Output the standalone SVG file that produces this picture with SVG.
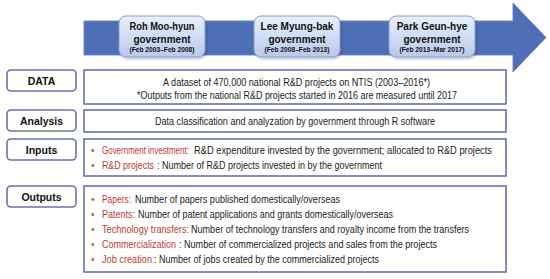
<svg xmlns="http://www.w3.org/2000/svg" width="550" height="279" viewBox="0 0 550 279">
<defs>
<linearGradient id="gov" x1="0" y1="0" x2="0" y2="1">
<stop offset="0" stop-color="#eaf0fb"/>
<stop offset="1" stop-color="#b6c9ec"/>
</linearGradient>
<filter id="sh" x="-10%" y="-10%" width="130%" height="140%">
<feDropShadow dx="1" dy="1.5" stdDeviation="1" flood-color="#000" flood-opacity="0.25"/>
</filter>
</defs>
<style>
.gbox{fill:url(#gov);stroke:#8a9dcc;stroke-width:1;filter:url(#sh)}
.lbox{fill:#fff;stroke:#6a6fb3;stroke-width:1.6}
.cbox{fill:#fff;stroke:#6a6fb3;stroke-width:1.6}
.gt{font-family:"Liberation Sans",Arial,sans-serif;font-weight:bold;font-size:10px;fill:#111;text-anchor:middle}
.gs{font-family:"Liberation Sans",Arial,sans-serif;font-weight:bold;font-size:6.6px;fill:#111;text-anchor:middle}
.lt{font-family:"Liberation Sans",Arial,sans-serif;font-weight:bold;font-size:10.5px;fill:#111;text-anchor:middle}
.ct{font-family:"Liberation Sans",Arial,sans-serif;font-size:10.3px;fill:#222}
.r{fill:#c0392f}
.b{fill:#c0504d}
</style>
<rect width="550" height="279" fill="#fff"/>
<g id="timeline">
<polygon points="84,21 513,21 513,3 546,37.5 513,72 513,55 84,55" fill="#4e6fb6" stroke="#6a88c8" stroke-width="1"/>
</g>
<g id="roh">
<rect class="gbox" x="119" y="16" width="86" height="41" rx="7"/>
<text class="gt" x="162" y="29.5" textLength="65" lengthAdjust="spacingAndGlyphs">Roh Moo-hyun</text>
<text class="gt" x="162" y="42.5">government</text>
<text class="gs" x="162" y="51.5" textLength="65" lengthAdjust="spacingAndGlyphs">(Feb 2003–Feb 2008)</text>
</g>
<g id="lee">
<rect class="gbox" x="254" y="16" width="86" height="41" rx="7"/>
<text class="gt" x="297" y="29.5">Lee Myung-bak</text>
<text class="gt" x="297" y="42.5">government</text>
<text class="gs" x="297" y="51.5" textLength="65" lengthAdjust="spacingAndGlyphs">(Feb 2008–Feb 2013)</text>
</g>
<g id="park">
<rect class="gbox" x="389" y="16" width="86" height="41" rx="7"/>
<text class="gt" x="432" y="29.5">Park Geun-hye</text>
<text class="gt" x="432" y="42.5">government</text>
<text class="gs" x="432" y="51.5" textLength="65" lengthAdjust="spacingAndGlyphs">(Feb 2013–Mar 2017)</text>
</g>
<g id="data">
<rect class="lbox" x="7" y="70" width="69" height="21" rx="4"/>
<text class="lt" x="41.5" y="84.5">DATA</text>
<rect class="cbox" x="84" y="70" width="422" height="34"/>
<text class="ct" x="163" y="85.5" textLength="267" lengthAdjust="spacingAndGlyphs">A dataset of 470,000 national R&amp;D projects on NTIS (2003–2016*)</text>
<text class="ct" x="137" y="99" textLength="320" lengthAdjust="spacingAndGlyphs">*Outputs from the national R&amp;D projects started in 2016 are measured until 2017</text>
</g>
<g id="analysis">
<rect class="lbox" x="7" y="110" width="69" height="21" rx="4"/>
<text class="lt" x="41.5" y="124.5">Analysis</text>
<rect class="cbox" x="84" y="110" width="422" height="22"/>
<text class="ct" x="155" y="125" textLength="280" lengthAdjust="spacingAndGlyphs">Data classification and analyzation by government through R software</text>
</g>
<g id="inputs">
<rect class="lbox" x="7" y="139" width="69" height="21" rx="4"/>
<text class="lt" x="41.5" y="153.5">Inputs</text>
<rect class="cbox" x="84" y="139" width="422" height="37"/>
<text class="ct b" x="91" y="154">•</text>
<text class="ct r" transform="translate(102,154) scale(0.775,1)" x="0" y="0">Government investment:</text>
<text class="ct" x="194" y="154" textLength="298" lengthAdjust="spacingAndGlyphs">R&amp;D expenditure invested by the government; allocated to R&amp;D projects</text>
<text class="ct b" x="91" y="169">•</text>
<text class="ct r" x="102" y="169" textLength="52" lengthAdjust="spacingAndGlyphs">R&amp;D projects</text>
<text class="ct" x="157" y="169" textLength="225" lengthAdjust="spacingAndGlyphs">: Number of R&amp;D projects invested in by the government</text>
</g>
<g id="outputs">
<rect class="lbox" x="7" y="186" width="69" height="21" rx="4"/>
<text class="lt" x="41.5" y="200.5">Outputs</text>
<rect class="cbox" x="84" y="186" width="422" height="86"/>
<text class="ct b" x="91" y="202.5">•</text>
<text class="ct r" x="102" y="202.5" textLength="29" lengthAdjust="spacingAndGlyphs">Papers:</text>
<text class="ct" x="135" y="202.5" textLength="205" lengthAdjust="spacingAndGlyphs">Number of papers published domestically/overseas</text>
<text class="ct b" x="91" y="217.5">•</text>
<text class="ct r" x="102" y="217.5" textLength="33" lengthAdjust="spacingAndGlyphs">Patents:</text>
<text class="ct" x="138" y="217.5" textLength="255" lengthAdjust="spacingAndGlyphs">Number of patent applications and grants domestically/overseas</text>
<text class="ct b" x="91" y="232.5">•</text>
<text class="ct r" x="102" y="232.5" textLength="87" lengthAdjust="spacingAndGlyphs">Technology transfers:</text>
<text class="ct" x="191" y="232.5" textLength="278" lengthAdjust="spacingAndGlyphs">Number of technology transfers and royalty income from the transfers</text>
<text class="ct b" x="91" y="247.5">•</text>
<text class="ct r" x="102" y="247.5" textLength="74" lengthAdjust="spacingAndGlyphs">Commercialization</text>
<text class="ct" x="179" y="247.5" textLength="258" lengthAdjust="spacingAndGlyphs">: Number of commercialized projects and sales from the projects</text>
<text class="ct b" x="91" y="262.5">•</text>
<text class="ct r" x="102" y="262.5" textLength="50" lengthAdjust="spacingAndGlyphs">Job creation</text>
<text class="ct" x="154" y="262.5" textLength="225" lengthAdjust="spacingAndGlyphs">: Number of jobs created by the commercialized projects</text>
</g>
</svg>
